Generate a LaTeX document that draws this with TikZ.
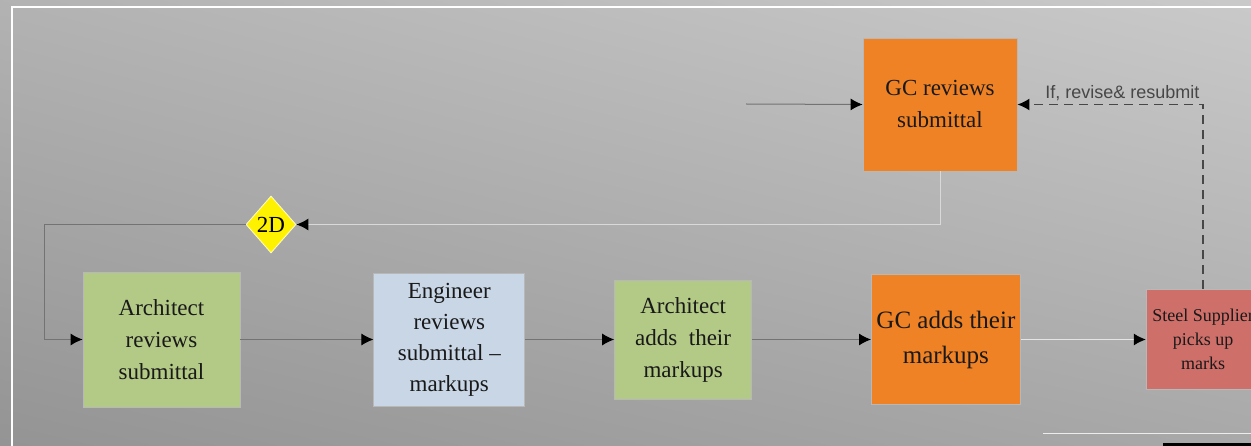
\documentclass[tikz,border=0pt]{standalone}
\usepackage{fontspec}
\setmainfont{Liberation Serif}
\newfontfamily\labelfont{Liberation Sans}
\usetikzlibrary{shapes.geometric}
\usetikzlibrary{shadings}
\usetikzlibrary{positioning}
\usetikzlibrary{arrows.meta}

\definecolor{archgreen}{HTML}{B3C986}
\definecolor{engblue}{HTML}{C8D6E6}
\definecolor{gcorange}{HTML}{F08226}
\definecolor{steelred}{HTML}{CF6F6A}

\begin{document}
\begin{tikzpicture}[x=1pt,y=-1pt,>={Latex[length=12pt,width=12pt,color=black]},
	task box/.style={rectangle,draw=white!72!black,line width=0.8pt,align=center,
		inner sep=2pt,text=black!90,font=\fontsize{23}{32}\selectfont},
	flow/.style={draw=black!55,line width=1pt,->}]
	
	% background and frame
	\useasboundingbox (0,0) rectangle (1251,446);
	\clip (0,0) rectangle (1251,446);
	\shade[upper left=black!30,upper right=black!21,lower left=black!42,lower right=black!34]
	(0,0) rectangle (1251,446);
	\draw[white,line width=1.5pt] (12,446) -- (12,7) -- (1251,7);
	\draw[white!85!gray,line width=1pt] (1043,433) -- (1251,433);
	\fill[black] (1163,443) rectangle (1251,446);
	
	% nodes
	\node[task box,fill=gcorange,minimum width=154pt,minimum height=133pt] (gcrev) at (940,104.5) {GC reviews\\submittal};
	\node[task box,fill=archgreen,minimum width=157pt,minimum height=135pt] (archrev) at (161.5,339.5) {Architect\\reviews\\submittal};
	\node[task box,fill=engblue,minimum width=151pt,minimum height=133pt,font=\fontsize{23}{31}\selectfont] (engrev) [right=133pt of archrev] {Engineer\\reviews\\submittal --\\markups};
	\node[task box,fill=archgreen,minimum width=137pt,minimum height=119pt] (archadd) [right=89pt of engrev] {Architect\\adds\ \ their\\markups};
	\node[task box,fill=gcorange,minimum width=149pt,minimum height=130pt,font=\fontsize{25}{35}\selectfont] (gcadd) [right=119pt of archadd] {GC adds their\\markups};
	\node[task box,fill=steelred,minimum width=114pt,minimum height=100pt,font=\fontsize{18}{24}\selectfont] (steel) [right=125pt of gcadd] {Steel Supplier\\picks up\\marks};
	\node[diamond,draw=white!80!yellow,fill=yellow,line width=0.8pt,inner sep=0pt,
		minimum width=50pt,minimum height=57pt,font=\fontsize{23}{24}\selectfont] (twod) at (271,224.5) {2D};
	
	\coordinate (gcin) at (746,104);
	\coordinate (loop) at (44,224.5);
	
	% connectors
	\draw[flow] (gcin) -- (gcrev.west);
	\draw[flow,draw=white!70!gray] (gcrev.south) |- (twod.east);
	\draw[flow] (twod.west) -- (loop) |- (archrev.west);
	\draw[flow] (archrev) -- (engrev);
	\draw[flow] (engrev) -- (archadd);
	\draw[flow] (archadd) -- (gcadd);
	\draw[flow,draw=white!80!gray] (gcadd) -- (steel);
	\draw[flow,draw=black!72,line width=1.6pt,dash pattern=on 9pt off 6pt] (steel.north) |- (gcrev.east)
	node[pos=0.5,above left,inner sep=3pt,text=black!72,font=\labelfont\fontsize{18}{20}\selectfont] {If, revise\& resubmit};
\end{tikzpicture}
\end{document}
